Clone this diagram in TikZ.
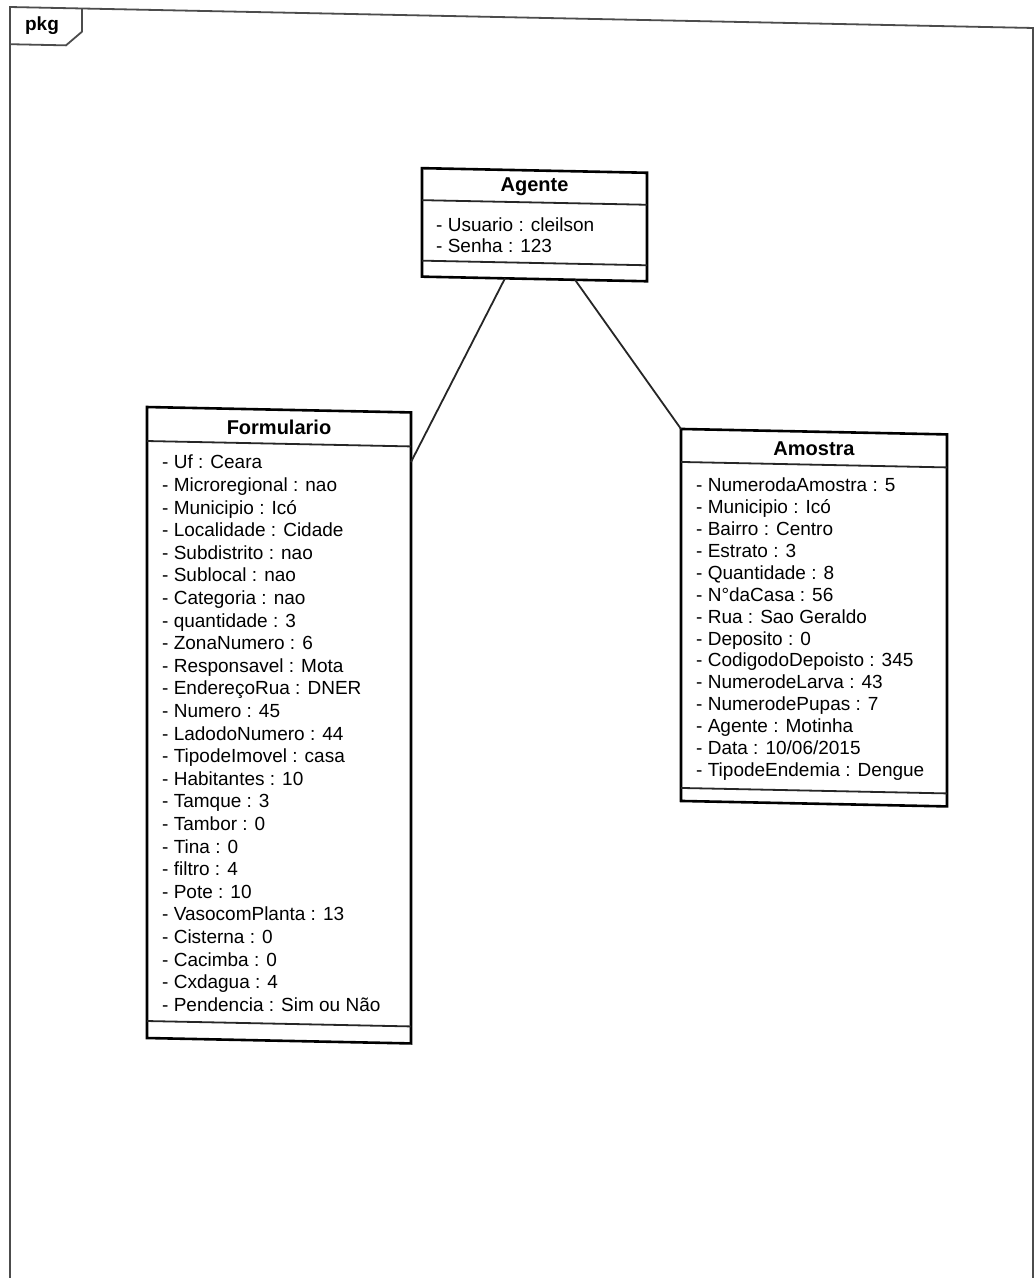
\documentclass[tikz,border=0pt]{standalone}
\usepackage{fontspec}
\setmainfont{Liberation Sans}
\usetikzlibrary{calc}

\tikzset{
  frameline/.style={draw=black!70, line width=1.8pt},
  classbox/.style={draw=black, line width=2.6pt, fill=white, rectangle,
    inner sep=0pt, outer sep=0pt, transform shape},
  sepline/.style={draw=black!85, line width=1.8pt},
  assoc/.style={draw=black!85, line width=1.8pt},
  classtitle/.style={font=\fontsize{20}{22}\selectfont\bfseries, inner sep=0pt},
  attr/.style={font=\fontsize{19}{22}\selectfont, anchor=base west, inner sep=0pt},
  tablabel/.style={font=\fontsize{19}{20}\selectfont\bfseries, inner sep=0pt},
}

\begin{document}
\begin{tikzpicture}[x=1pt, y=-1pt]
\useasboundingbox (0,0) rectangle (1036,1278);
\fill[white] (0,0) rectangle (1036,1278);
\clip (0,0) rectangle (1036,1278);

\begin{scope}[yslant=-0.0205]

  % package frame with its name tab
  \draw[frameline] (10,1320) -- (10,6.8) -- (1033,6.8) -- (1033,1320);
  \draw[frameline] (82,6.8) -- (82,30) -- (66,44) -- (10,44);
  \node[tablabel] (pkg) at (42,25) {pkg};

  % class Agente
  \node[classbox, minimum width=225pt, minimum height=108.5pt] (agente) at (534.5,213.75) {};
  \draw[sepline] ($(agente.north west)+(0,32)$) -- ($(agente.north east)+(0,32)$);
  \draw[sepline] ($(agente.north west)+(0,92.5)$) -- ($(agente.north east)+(0,92.5)$);
  \node[classtitle] (agenteT) at ($(agente.north)+(0,16)$) {Agente};
  \foreach \t [count=\i] in {- Usuario : cleilson, - Senha : 123}
    \node[attr] (ag\i) at (436,{223+(\i-1)*21}) {\t};

  % class Formulario
  \node[classbox, minimum width=264pt, minimum height=631pt] (form) at (279,719.5) {};
  \draw[sepline] ($(form.north west)+(0,34)$) -- ($(form.north east)+(0,34)$);
  \draw[sepline] ($(form.north west)+(0,614)$) -- ($(form.north east)+(0,614)$);
  \node[classtitle] (formT) at ($(form.north)+(0,17.5)$) {Formulario};
  \foreach \t [count=\i] in {
      - Uf : Ceara,
      - Microregional : nao,
      - Municipio : Icó,
      - Localidade : Cidade,
      - Subdistrito : nao,
      - Sublocal : nao,
      - Categoria : nao,
      - quantidade : 3,
      - ZonaNumero : 6,
      - Responsavel : Mota,
      - EndereçoRua : DNER,
      - Numero : 45,
      - LadodoNumero : 44,
      - TipodeImovel : casa,
      - Habitantes : 10,
      - Tamque : 3,
      - Tambor : 0,
      - Tina : 0,
      - filtro : 4,
      - Pote : 10,
      - VasocomPlanta : 13,
      - Cisterna : 0,
      - Cacimba : 0,
      - Cxdagua : 4,
      - Pendencia : Sim ou Não}
    \node[attr] (fo\i) at (162,{465.5+(\i-1)*22.6}) {\t};

  % class Amostra
  \node[classbox, minimum width=266pt, minimum height=372pt] (amostra) at (814,601) {};
  \draw[sepline] ($(amostra.north west)+(0,33)$) -- ($(amostra.north east)+(0,33)$);
  \draw[sepline] ($(amostra.north west)+(0,359)$) -- ($(amostra.north east)+(0,359)$);
  \node[classtitle] (amostraT) at ($(amostra.north)+(0,17)$) {Amostra};
  \foreach \t [count=\i] in {
      - NumerodaAmostra : 5,
      - Municipio : Icó,
      - Bairro : Centro,
      - Estrato : 3,
      - Quantidade : 8,
      - N°daCasa : 56,
      - Rua : Sao Geraldo,
      - Deposito : 0,
      - CodigodoDepoisto : 345,
      - NumerodeLarva : 43,
      - NumerodePupas : 7,
      - Agente : Motinha,
      - Data : 10/06/2015,
      - TipodeEndemia : Dengue}
    \node[attr] (am\i) at (696,{477.5+(\i-1)*21.9}) {\t};

  % associations
  \draw[assoc] ($(agente.south)+(-29.5,0)$) -- ($(form.north east)+(0,49.6)$);
  \draw[assoc] ($(agente.south)+(40.5,0)$) -- (amostra.north west);

\end{scope}
\end{tikzpicture}
\end{document}
